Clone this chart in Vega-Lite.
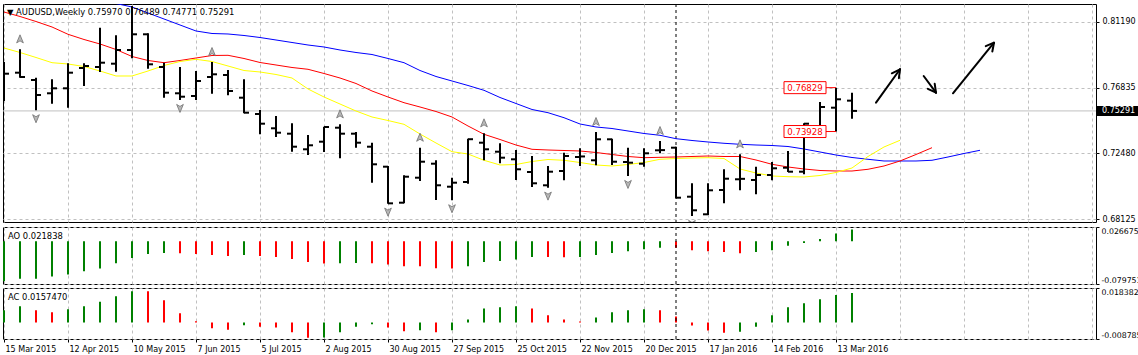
{
"$schema": "https://vega.github.io/schema/vega-lite/v6.json",
"background": "white",
"padding": {"left": 2, "top": 3, "right": 0, "bottom": 0},
"spacing": 2,
"config": {
  "view": {"stroke": "black", "strokeWidth": 1},
  "axis": {"gridColor": "#c0c0c0", "gridDash": [3, 3], "gridWidth": 1, "domain": false, "labelFont": "DejaVu Sans", "labelFontSize": 8, "labelColor": "black", "tickColor": "black", "tickSize": 3, "labelPadding": 3},
  "text": {"font": "DejaVu Sans", "fontSize": 8.4}
},
"datasets": {
  "ohlc": [
    {"i":0,"o":0.78195,"h":0.78525,"l":0.75947,"c":0.77752},
    {"i":1,"o":0.77818,"h":0.79365,"l":0.77487,"c":0.77534},
    {"i":2,"o":0.77335,"h":0.77487,"l":0.75332,"c":0.76343},
    {"i":3,"o":0.76456,"h":0.77381,"l":0.75768,"c":0.76786},
    {"i":4,"o":0.76786,"h":0.78439,"l":0.75504,"c":0.77818},
    {"i":5,"o":0.78129,"h":0.78439,"l":0.76939,"c":0.78261},
    {"i":6,"o":0.78195,"h":0.80793,"l":0.77864,"c":0.78479},
    {"i":7,"o":0.78413,"h":0.80291,"l":0.77884,"c":0.79319},
    {"i":8,"o":0.79319,"h":0.82228,"l":0.7877,"c":0.80357},
    {"i":9,"o":0.80357,"h":0.80423,"l":0.78082,"c":0.78373},
    {"i":10,"o":0.78195,"h":0.78479,"l":0.76165,"c":0.76495},
    {"i":11,"o":0.76456,"h":0.78195,"l":0.76013,"c":0.76231},
    {"i":12,"o":0.76277,"h":0.7793,"l":0.76013,"c":0.77269},
    {"i":13,"o":0.77534,"h":0.78525,"l":0.76429,"c":0.77712},
    {"i":14,"o":0.77666,"h":0.77996,"l":0.76324,"c":0.76608},
    {"i":15,"o":0.76165,"h":0.77381,"l":0.75133,"c":0.75173},
    {"i":16,"o":0.75087,"h":0.75352,"l":0.73745,"c":0.74446},
    {"i":17,"o":0.74142,"h":0.74955,"l":0.73566,"c":0.73851},
    {"i":18,"o":0.73785,"h":0.74472,"l":0.72594,"c":0.72925},
    {"i":19,"o":0.72753,"h":0.73699,"l":0.72376,"c":0.73018},
    {"i":20,"o":0.73256,"h":0.74247,"l":0.72575,"c":0.74228},
    {"i":21,"o":0.74181,"h":0.74406,"l":0.72158,"c":0.73785},
    {"i":22,"o":0.73785,"h":0.73897,"l":0.72859,"c":0.73189},
    {"i":23,"o":0.72925,"h":0.73189,"l":0.70545,"c":0.71761},
    {"i":24,"o":0.71603,"h":0.71649,"l":0.69156,"c":0.6918},
    {"i":25,"o":0.69222,"h":0.71034,"l":0.69183,"c":0.70941},
    {"i":26,"o":0.70875,"h":0.72859,"l":0.70657,"c":0.71933},
    {"i":27,"o":0.71801,"h":0.72026,"l":0.69401,"c":0.70373},
    {"i":28,"o":0.7028,"h":0.70875,"l":0.69381,"c":0.70545},
    {"i":29,"o":0.70591,"h":0.73454,"l":0.70479,"c":0.7342},
    {"i":30,"o":0.73189,"h":0.73811,"l":0.72026,"c":0.72753},
    {"i":31,"o":0.72594,"h":0.7315,"l":0.71827,"c":0.72198},
    {"i":32,"o":0.72092,"h":0.72707,"l":0.70723,"c":0.71431},
    {"i":33,"o":0.71252,"h":0.7231,"l":0.7026,"c":0.70505},
    {"i":34,"o":0.70373,"h":0.71649,"l":0.70214,"c":0.71272},
    {"i":35,"o":0.71318,"h":0.72528,"l":0.70703,"c":0.7231},
    {"i":36,"o":0.72244,"h":0.72819,"l":0.71649,"c":0.7228},
    {"i":37,"o":0.72026,"h":0.73897,"l":0.71695,"c":0.73414},
    {"i":38,"o":0.73414,"h":0.73454,"l":0.71715,"c":0.71933},
    {"i":39,"o":0.71913,"h":0.72859,"l":0.70988,"c":0.71867},
    {"i":40,"o":0.71801,"h":0.72819,"l":0.71603,"c":0.72489},
    {"i":41,"o":0.72687,"h":0.73302,"l":0.72489,"c":0.727},
    {"i":42,"o":0.72859,"h":0.72925,"l":0.69513,"c":0.69553},
    {"i":43,"o":0.69619,"h":0.70505,"l":0.68343,"c":0.6872},
    {"i":44,"o":0.68455,"h":0.70505,"l":0.68409,"c":0.70042},
    {"i":45,"o":0.70062,"h":0.71431,"l":0.69183,"c":0.70809},
    {"i":46,"o":0.7077,"h":0.72423,"l":0.70042,"c":0.708},
    {"i":47,"o":0.70723,"h":0.71603,"l":0.69778,"c":0.71054},
    {"i":48,"o":0.71054,"h":0.71913,"l":0.70703,"c":0.71497},
    {"i":49,"o":0.71536,"h":0.72641,"l":0.71252,"c":0.71272},
    {"i":50,"o":0.71272,"h":0.74472,"l":0.711,"c":0.74446},
    {"i":51,"o":0.74075,"h":0.75881,"l":0.74009,"c":0.7555},
    {"i":52,"o":0.75504,"h":0.76829,"l":0.73928,"c":0.76059},
    {"i":53,"o":0.7597,"h":0.76489,"l":0.74771,"c":0.75291}
  ],
  "jaw": [
    {"i":6,"v":0.82757},{"i":7,"v":0.82393},{"i":8,"v":0.82162},{"i":9,"v":0.81765},{"i":10,"v":0.81369},{"i":11,"v":0.80972},{"i":12,"v":0.80575},{"i":13,"v":0.8041},{"i":14,"v":0.80377},{"i":15,"v":0.80278},{"i":16,"v":0.80145},{"i":17,"v":0.7998},{"i":18,"v":0.79815},{"i":19,"v":0.79649},{"i":20,"v":0.79517},{"i":21,"v":0.79319},{"i":22,"v":0.79154},{"i":23,"v":0.79021},{"i":24,"v":0.78757},{"i":25,"v":0.78479},{"i":26,"v":0.77963},{"i":27,"v":0.77567},{"i":28,"v":0.77269},{"i":29,"v":0.76972},{"i":30,"v":0.76654},{"i":31,"v":0.76178},{"i":32,"v":0.75781},{"i":33,"v":0.75385},{"i":34,"v":0.75173},{"i":35,"v":0.74842},{"i":36,"v":0.74426},{"i":37,"v":0.74228},{"i":38,"v":0.74128},{"i":39,"v":0.73963},{"i":40,"v":0.73798},{"i":41,"v":0.73679},{"i":42,"v":0.73454},{"i":43,"v":0.73335},{"i":44,"v":0.73236},{"i":45,"v":0.7315},{"i":46,"v":0.73084},{"i":47,"v":0.73037},{"i":48,"v":0.73004},{"i":49,"v":0.72938},{"i":50,"v":0.72773},{"i":51,"v":0.72575},{"i":52,"v":0.72376},{"i":53,"v":0.72211},{"i":54,"v":0.72092},{"i":55,"v":0.7198},{"i":56,"v":0.7198},{"i":57,"v":0.7198},{"i":58,"v":0.72026},{"i":59,"v":0.72244},{"i":60,"v":0.72475},{"i":61,"v":0.72687}
  ],
  "teeth": [
    {"i":0,"v":0.81831},{"i":1,"v":0.81534},{"i":2,"v":0.81203},{"i":3,"v":0.8084},{"i":4,"v":0.80357},{"i":5,"v":0.80013},{"i":6,"v":0.79716},{"i":7,"v":0.79352},{"i":8,"v":0.78889},{"i":9,"v":0.78625},{"i":10,"v":0.78479},{"i":11,"v":0.78625},{"i":12,"v":0.7879},{"i":13,"v":0.78955},{"i":14,"v":0.78968},{"i":15,"v":0.78757},{"i":16,"v":0.78492},{"i":17,"v":0.78327},{"i":18,"v":0.78162},{"i":19,"v":0.78043},{"i":20,"v":0.77765},{"i":21,"v":0.77467},{"i":22,"v":0.77104},{"i":23,"v":0.76608},{"i":24,"v":0.76211},{"i":25,"v":0.75834},{"i":26,"v":0.7555},{"i":27,"v":0.75252},{"i":28,"v":0.74889},{"i":29,"v":0.74294},{"i":30,"v":0.73745},{"i":31,"v":0.73401},{"i":32,"v":0.73037},{"i":33,"v":0.72753},{"i":34,"v":0.72707},{"i":35,"v":0.72674},{"i":36,"v":0.72641},{"i":37,"v":0.72542},{"i":38,"v":0.72409},{"i":39,"v":0.72277},{"i":40,"v":0.72198},{"i":41,"v":0.72224},{"i":42,"v":0.72244},{"i":43,"v":0.72277},{"i":44,"v":0.7231},{"i":45,"v":0.72277},{"i":46,"v":0.72277},{"i":47,"v":0.72046},{"i":48,"v":0.71761},{"i":49,"v":0.71583},{"i":50,"v":0.71451},{"i":51,"v":0.71351},{"i":52,"v":0.71318},{"i":53,"v":0.71318},{"i":54,"v":0.71431},{"i":55,"v":0.71649},{"i":56,"v":0.7198},{"i":57,"v":0.72409},{"i":58,"v":0.72859}
  ],
  "lips": [
    {"i":0,"v":0.79451},{"i":1,"v":0.79154},{"i":2,"v":0.78823},{"i":3,"v":0.78479},{"i":4,"v":0.78393},{"i":5,"v":0.78228},{"i":6,"v":0.7793},{"i":7,"v":0.776},{"i":8,"v":0.776},{"i":9,"v":0.7793},{"i":10,"v":0.78294},{"i":11,"v":0.78558},{"i":12,"v":0.78704},{"i":13,"v":0.78558},{"i":14,"v":0.78261},{"i":15,"v":0.77963},{"i":16,"v":0.77864},{"i":17,"v":0.77699},{"i":18,"v":0.77467},{"i":19,"v":0.7674},{"i":20,"v":0.76211},{"i":21,"v":0.75748},{"i":22,"v":0.75285},{"i":23,"v":0.74889},{"i":24,"v":0.74657},{"i":25,"v":0.74406},{"i":26,"v":0.73765},{"i":27,"v":0.7317},{"i":28,"v":0.72594},{"i":29,"v":0.72442},{"i":30,"v":0.72026},{"i":31,"v":0.71715},{"i":32,"v":0.71748},{"i":33,"v":0.71946},{"i":34,"v":0.72079},{"i":35,"v":0.72026},{"i":36,"v":0.7188},{"i":37,"v":0.71715},{"i":38,"v":0.71649},{"i":39,"v":0.71748},{"i":40,"v":0.7188},{"i":41,"v":0.72092},{"i":42,"v":0.72145},{"i":43,"v":0.72178},{"i":44,"v":0.72198},{"i":45,"v":0.72145},{"i":46,"v":0.71451},{"i":47,"v":0.71186},{"i":48,"v":0.70988},{"i":49,"v":0.70941},{"i":50,"v":0.70922},{"i":51,"v":0.71021},{"i":52,"v":0.71219},{"i":53,"v":0.71517},{"i":54,"v":0.72277},{"i":55,"v":0.72905},{"i":56,"v":0.73348}
  ],
  "frac": [
    {"i":1,"t":"up","p":0.79365},{"i":2,"t":"dn","p":0.75332},{"i":8,"t":"up","p":0.82228},{"i":11,"t":"dn","p":0.76013},{"i":13,"t":"up","p":0.78525},{"i":21,"t":"up","p":0.74406},{"i":24,"t":"dn","p":0.69156},{"i":26,"t":"up","p":0.72859},{"i":28,"t":"dn","p":0.69381},{"i":30,"t":"up","p":0.73811},{"i":34,"t":"dn","p":0.70214},{"i":37,"t":"up","p":0.73897},{"i":39,"t":"dn","p":0.70988},{"i":41,"t":"up","p":0.73302},{"i":43,"t":"dn","p":0.68343},{"i":46,"t":"up","p":0.72423}
  ],
  "arrows": [
    {"x1":54.5,"y1":0.75834,"x2":56.0,"y2":0.78043},
    {"x1":56.0,"y1":0.78043,"x2":55.49,"y2":0.77778},
    {"x1":56.0,"y1":0.78043,"x2":55.93,"y2":0.77454},
    {"x1":57.48,"y1":0.776,"x2":58.25,"y2":0.76496},
    {"x1":58.25,"y1":0.76496,"x2":58.17,"y2":0.77084},
    {"x1":58.25,"y1":0.76496,"x2":57.74,"y2":0.76753},
    {"x1":59.31,"y1":0.76456,"x2":61.875,"y2":0.79802},
    {"x1":61.875,"y1":0.79802,"x2":61.36,"y2":0.7957},
    {"x1":61.875,"y1":0.79802,"x2":61.77,"y2":0.7922}
  ],
  "plabels": [{"i":52,"p":0.76829,"t":"0.76829"},{"i":52,"p":0.73928,"t":"0.73928"}],
  "ao": [
    {"i":0,"v":-0.0746,"d":"up"},{"i":1,"v":-0.0701,"d":"up"},{"i":2,"v":-0.07,"d":"up"},{"i":3,"v":-0.0656,"d":"up"},{"i":4,"v":-0.0618,"d":"up"},{"i":5,"v":-0.0561,"d":"up"},{"i":6,"v":-0.051,"d":"up"},{"i":7,"v":-0.0408,"d":"up"},{"i":8,"v":-0.0312,"d":"up"},{"i":9,"v":-0.0236,"d":"up"},{"i":10,"v":-0.0217,"d":"up"},{"i":11,"v":-0.0223,"d":"down"},{"i":12,"v":-0.0236,"d":"down"},{"i":13,"v":-0.0255,"d":"down"},{"i":14,"v":-0.0274,"d":"down"},{"i":15,"v":-0.0255,"d":"up"},{"i":16,"v":-0.0274,"d":"down"},{"i":17,"v":-0.0293,"d":"down"},{"i":18,"v":-0.0331,"d":"down"},{"i":19,"v":-0.0389,"d":"down"},{"i":20,"v":-0.0414,"d":"down"},{"i":21,"v":-0.0408,"d":"up"},{"i":22,"v":-0.0406,"d":"up"},{"i":23,"v":-0.041,"d":"down"},{"i":24,"v":-0.0433,"d":"down"},{"i":25,"v":-0.0465,"d":"down"},{"i":26,"v":-0.0467,"d":"down"},{"i":27,"v":-0.0504,"d":"down"},{"i":28,"v":-0.0506,"d":"down"},{"i":29,"v":-0.0465,"d":"up"},{"i":30,"v":-0.0389,"d":"up"},{"i":31,"v":-0.037,"d":"up"},{"i":32,"v":-0.0338,"d":"up"},{"i":33,"v":-0.0293,"d":"up"},{"i":34,"v":-0.0295,"d":"down"},{"i":35,"v":-0.0297,"d":"down"},{"i":36,"v":-0.0292,"d":"up"},{"i":37,"v":-0.0255,"d":"up"},{"i":38,"v":-0.0217,"d":"up"},{"i":39,"v":-0.0185,"d":"up"},{"i":40,"v":-0.0147,"d":"up"},{"i":41,"v":-0.0121,"d":"up"},{"i":42,"v":-0.0123,"d":"down"},{"i":43,"v":-0.0166,"d":"down"},{"i":44,"v":-0.0185,"d":"down"},{"i":45,"v":-0.0198,"d":"down"},{"i":46,"v":-0.0223,"d":"down"},{"i":47,"v":-0.0198,"d":"up"},{"i":48,"v":-0.0166,"d":"up"},{"i":49,"v":-0.0083,"d":"up"},{"i":50,"v":-0.0032,"d":"up"},{"i":51,"v":0.0045,"d":"up"},{"i":52,"v":0.0147,"d":"up"},{"i":53,"v":0.021838,"d":"up"}
  ],
  "ac": [
    {"i":0,"v":0.0065,"d":"up"},{"i":1,"v":0.0086,"d":"up"},{"i":2,"v":0.0065,"d":"down"},{"i":3,"v":0.0054,"d":"down"},{"i":4,"v":0.007,"d":"up"},{"i":5,"v":0.0086,"d":"up"},{"i":6,"v":0.011,"d":"up"},{"i":7,"v":0.014,"d":"up"},{"i":8,"v":0.0167,"d":"up"},{"i":9,"v":0.0166,"d":"down"},{"i":10,"v":0.0119,"d":"down"},{"i":11,"v":0.0049,"d":"down"},{"i":12,"v":0.0007,"d":"down"},{"i":13,"v":-0.0031,"d":"down"},{"i":14,"v":-0.0038,"d":"down"},{"i":15,"v":-0.0014,"d":"up"},{"i":16,"v":-0.0022,"d":"down"},{"i":17,"v":-0.0027,"d":"down"},{"i":18,"v":-0.0052,"d":"down"},{"i":19,"v":-0.0081,"d":"down"},{"i":20,"v":-0.008,"d":"up"},{"i":21,"v":-0.0052,"d":"up"},{"i":22,"v":-0.0022,"d":"up"},{"i":23,"v":-0.0009,"d":"up"},{"i":24,"v":-0.0027,"d":"down"},{"i":25,"v":-0.0047,"d":"down"},{"i":26,"v":-0.0041,"d":"up"},{"i":27,"v":-0.0052,"d":"down"},{"i":28,"v":-0.0041,"d":"up"},{"i":29,"v":0.0016,"d":"up"},{"i":30,"v":0.0075,"d":"up"},{"i":31,"v":0.0081,"d":"up"},{"i":32,"v":0.0086,"d":"up"},{"i":33,"v":0.0075,"d":"down"},{"i":34,"v":0.0038,"d":"down"},{"i":35,"v":0.0016,"d":"down"},{"i":36,"v":0.0005,"d":"down"},{"i":37,"v":0.0027,"d":"up"},{"i":38,"v":0.0054,"d":"up"},{"i":39,"v":0.0065,"d":"up"},{"i":40,"v":0.007,"d":"up"},{"i":41,"v":0.0065,"d":"down"},{"i":42,"v":0.0032,"d":"down"},{"i":43,"v":-0.0016,"d":"down"},{"i":44,"v":-0.0043,"d":"down"},{"i":45,"v":-0.0054,"d":"down"},{"i":46,"v":-0.0049,"d":"up"},{"i":47,"v":-0.0022,"d":"up"},{"i":48,"v":0.0038,"d":"up"},{"i":49,"v":0.0081,"d":"up"},{"i":50,"v":0.0102,"d":"up"},{"i":51,"v":0.0124,"d":"up"},{"i":52,"v":0.0146,"d":"up"},{"i":53,"v":0.015747,"d":"up"}
  ]
},
"vconcat": [
  {
    "width": 1093, "height": 218,
    "layer": [
      {
        "data": {"values": [{"p": 0.75291}]},
        "mark": {"type": "rule", "color": "#c0c0c0", "strokeWidth": 1},
        "encoding": {
          "y": {"field": "p", "type": "quantitative", "scale": {"domain": [0.67946, 0.8236], "nice": false, "zero": false},
                "axis": {"title": null, "orient": "right", "values": [0.68125, 0.7027, 0.7248, 0.74625, 0.76835, 0.79045, 0.8119], "format": ".5f", "grid": true, "ticks": true, "labelFlush": false}}
        }
      },
      {
        "data": {"values": [{"i": 42}]},
        "mark": {"type": "rule", "color": "black", "strokeDash": [3, 3], "strokeWidth": 1},
        "encoding": {
          "x": {"field": "i", "type": "quantitative", "scale": {"domain": [-0.0625, 68.25], "nice": false, "zero": false},
                "axis": {"title": null, "grid": true, "values": [0,2,4,6,8,10,12,14,16,18,20,22,24,26,28,30,32,34,36,38,40,42,44,46,48,50,52,54,56,58,60,62,64,66,68], "labels": false, "ticks": false}}
        }
      },
      {
        "data": {"name": "jaw"},
        "mark": {"type": "line", "color": "#0000ff", "strokeWidth": 1, "clip": true},
        "encoding": {
          "x": {"field": "i", "type": "quantitative", "scale": {"domain": [-0.0625, 68.25], "nice": false, "zero": false}},
          "y": {"field": "v", "type": "quantitative", "scale": {"domain": [0.67946, 0.8236], "nice": false, "zero": false}}
        }
      },
      {
        "data": {"name": "teeth"},
        "mark": {"type": "line", "color": "#ff0000", "strokeWidth": 1, "clip": true},
        "encoding": {
          "x": {"field": "i", "type": "quantitative", "scale": {"domain": [-0.0625, 68.25], "nice": false, "zero": false}},
          "y": {"field": "v", "type": "quantitative", "scale": {"domain": [0.67946, 0.8236], "nice": false, "zero": false}}
        }
      },
      {
        "data": {"name": "lips"},
        "mark": {"type": "line", "color": "#ffff00", "strokeWidth": 1, "clip": true},
        "encoding": {
          "x": {"field": "i", "type": "quantitative", "scale": {"domain": [-0.0625, 68.25], "nice": false, "zero": false}},
          "y": {"field": "v", "type": "quantitative", "scale": {"domain": [0.67946, 0.8236], "nice": false, "zero": false}}
        }
      },
      {
        "data": {"name": "ohlc"},
        "mark": {"type": "rule", "color": "black", "strokeWidth": 2, "clip": true},
        "encoding": {
          "x": {"field": "i", "type": "quantitative", "scale": {"domain": [-0.0625, 68.25], "nice": false, "zero": false}},
          "y": {"field": "h", "type": "quantitative", "scale": {"domain": [0.67946, 0.8236], "nice": false, "zero": false}},
          "y2": {"field": "l"}
        }
      },
      {
        "data": {"name": "ohlc"},
        "mark": {"type": "rule", "color": "black", "strokeWidth": 2, "xOffset": -5, "x2Offset": 0, "clip": true},
        "encoding": {
          "x": {"field": "i", "type": "quantitative", "scale": {"domain": [-0.0625, 68.25], "nice": false, "zero": false}},
          "x2": {"field": "i"},
          "y": {"field": "o", "type": "quantitative", "scale": {"domain": [0.67946, 0.8236], "nice": false, "zero": false}}
        }
      },
      {
        "data": {"name": "ohlc"},
        "mark": {"type": "rule", "color": "black", "strokeWidth": 2, "xOffset": 0, "x2Offset": 5, "clip": true},
        "encoding": {
          "x": {"field": "i", "type": "quantitative", "scale": {"domain": [-0.0625, 68.25], "nice": false, "zero": false}},
          "x2": {"field": "i"},
          "y": {"field": "c", "type": "quantitative", "scale": {"domain": [0.67946, 0.8236], "nice": false, "zero": false}}
        }
      },
      {
        "data": {"name": "frac"},
        "transform": [{"filter": "datum.t == 'up'"}],
        "mark": {"type": "point", "shape": "M0,-1L0.75,0.8L0,0.35L-0.75,0.8Z", "size": 80, "filled": true, "fill": "#b8b8b8", "stroke": "#707070", "strokeWidth": 0.8, "opacity": 1, "yOffset": -10, "clip": true},
        "encoding": {
          "x": {"field": "i", "type": "quantitative", "scale": {"domain": [-0.0625, 68.25], "nice": false, "zero": false}},
          "y": {"field": "p", "type": "quantitative", "scale": {"domain": [0.67946, 0.8236], "nice": false, "zero": false}}
        }
      },
      {
        "data": {"name": "frac"},
        "transform": [{"filter": "datum.t == 'dn'"}],
        "mark": {"type": "point", "shape": "M0,1L0.75,-0.8L0,-0.35L-0.75,-0.8Z", "size": 80, "filled": true, "fill": "#b8b8b8", "stroke": "#707070", "strokeWidth": 0.8, "opacity": 1, "yOffset": 8, "clip": true},
        "encoding": {
          "x": {"field": "i", "type": "quantitative", "scale": {"domain": [-0.0625, 68.25], "nice": false, "zero": false}},
          "y": {"field": "p", "type": "quantitative", "scale": {"domain": [0.67946, 0.8236], "nice": false, "zero": false}}
        }
      },
      {
        "data": {"name": "arrows"},
        "mark": {"type": "rule", "color": "black", "strokeWidth": 2, "strokeCap": "round"},
        "encoding": {
          "x": {"field": "x1", "type": "quantitative", "scale": {"domain": [-0.0625, 68.25], "nice": false, "zero": false}},
          "x2": {"field": "x2"},
          "y": {"field": "y1", "type": "quantitative", "scale": {"domain": [0.67946, 0.8236], "nice": false, "zero": false}},
          "y2": {"field": "y2"}
        }
      },
      {
        "data": {"name": "plabels"},
        "mark": {"type": "rule", "color": "#ff0000", "strokeWidth": 1, "xOffset": -10, "x2Offset": 0},
        "encoding": {
          "x": {"field": "i", "type": "quantitative", "scale": {"domain": [-0.0625, 68.25], "nice": false, "zero": false}},
          "x2": {"field": "i"},
          "y": {"field": "p", "type": "quantitative", "scale": {"domain": [0.67946, 0.8236], "nice": false, "zero": false}}
        }
      },
      {
        "data": {"name": "plabels"},
        "mark": {"type": "rect", "fill": "white", "stroke": "#ff0000", "strokeWidth": 1, "xOffset": -52, "x2Offset": -10, "yOffset": -6, "y2Offset": 6},
        "encoding": {
          "x": {"field": "i", "type": "quantitative", "scale": {"domain": [-0.0625, 68.25], "nice": false, "zero": false}},
          "x2": {"field": "i"},
          "y": {"field": "p", "type": "quantitative", "scale": {"domain": [0.67946, 0.8236], "nice": false, "zero": false}},
          "y2": {"field": "p"}
        }
      },
      {
        "data": {"name": "plabels"},
        "mark": {"type": "text", "color": "#ff0000", "align": "center", "baseline": "middle", "dx": -31, "fontSize": 8.6},
        "encoding": {
          "x": {"field": "i", "type": "quantitative", "scale": {"domain": [-0.0625, 68.25], "nice": false, "zero": false}},
          "y": {"field": "p", "type": "quantitative", "scale": {"domain": [0.67946, 0.8236], "nice": false, "zero": false}},
          "text": {"field": "t"}
        }
      },
      {
        "data": {"values": [{"p": 0.75291, "t": "0.75291"}]},
        "mark": {"type": "rect", "color": "black", "xOffset": 1, "x2Offset": 44, "yOffset": -5, "y2Offset": 5},
        "encoding": {
          "x": {"datum": 68.25, "type": "quantitative", "scale": {"domain": [-0.0625, 68.25], "nice": false, "zero": false}},
          "x2": {"datum": 68.25},
          "y": {"field": "p", "type": "quantitative", "scale": {"domain": [0.67946, 0.8236], "nice": false, "zero": false}},
          "y2": {"field": "p"}
        }
      },
      {
        "data": {"values": [{"p": 0.75291, "t": "0.75291"}]},
        "mark": {"type": "text", "color": "white", "align": "left", "baseline": "middle", "dx": 6, "fontSize": 8},
        "encoding": {
          "x": {"datum": 68.25, "type": "quantitative", "scale": {"domain": [-0.0625, 68.25], "nice": false, "zero": false}},
          "y": {"field": "p", "type": "quantitative", "scale": {"domain": [0.67946, 0.8236], "nice": false, "zero": false}},
          "text": {"field": "t"}
        }
      },
      {
        "data": {"values": [{"t": "▼  AUDUSD,Weekly  0.75970 0.76489 0.74771 0.75291"}]},
        "mark": {"type": "text", "color": "black", "align": "left", "baseline": "middle", "dx": 4, "dy": 8},
        "encoding": {
          "x": {"datum": -0.0625, "type": "quantitative", "scale": {"domain": [-0.0625, 68.25], "nice": false, "zero": false}},
          "y": {"datum": 0.8236, "type": "quantitative", "scale": {"domain": [0.67946, 0.8236], "nice": false, "zero": false}},
          "text": {"field": "t"}
        }
      }
    ]
  },
  {
    "width": 1093, "height": 57,
    "layer": [
      {
        "data": {"name": "ao"},
        "mark": {"type": "rule", "strokeWidth": 2},
        "encoding": {
          "x": {"field": "i", "type": "quantitative", "scale": {"domain": [-0.0625, 68.25], "nice": false, "zero": false},
                "axis": {"title": null, "grid": true, "values": [0,2,4,6,8,10,12,14,16,18,20,22,24,26,28,30,32,34,36,38,40,42,44,46,48,50,52,54,56,58,60,62,64,66,68], "labels": false, "ticks": false}},
          "y": {"field": "v", "type": "quantitative", "scale": {"domain": [-0.079751, 0.026675], "nice": false, "zero": false},
                "axis": {"title": null, "orient": "right", "values": [0.026675, 0, -0.079751], "labelExpr": "datum.value == 0 ? '0.00' : replace(format(datum.value, '.6f'), '\u2212', '-')", "grid": true, "ticks": true, "labelFlush": true, "labelPadding": 2, "labelFontSize": 7.8}},
          "y2": {"datum": 0},
          "color": {"field": "d", "type": "nominal", "scale": {"domain": ["up", "down"], "range": ["#008000", "#ff0000"]}, "legend": null}
        }
      },
      {
        "data": {"values": [{"i": 42}]},
        "mark": {"type": "rule", "color": "black", "strokeDash": [3, 3], "strokeWidth": 1},
        "encoding": {
          "x": {"field": "i", "type": "quantitative", "scale": {"domain": [-0.0625, 68.25], "nice": false, "zero": false}}
        }
      },
      {
        "data": {"values": [{"t": "AO 0.021838"}]},
        "mark": {"type": "text", "color": "black", "align": "left", "baseline": "middle", "dx": 5, "dy": 9},
        "encoding": {
          "x": {"datum": -0.0625, "type": "quantitative", "scale": {"domain": [-0.0625, 68.25], "nice": false, "zero": false}},
          "y": {"datum": 0.026675, "type": "quantitative", "scale": {"domain": [-0.079751, 0.026675], "nice": false, "zero": false}},
          "text": {"field": "t"}
        }
      }
    ]
  },
  {
    "width": 1093, "height": 51,
    "layer": [
      {
        "data": {"name": "ac"},
        "mark": {"type": "rule", "strokeWidth": 2},
        "encoding": {
          "x": {"field": "i", "type": "quantitative", "scale": {"domain": [-0.0625, 68.25], "nice": false, "zero": false},
                "axis": {"title": null, "grid": true, "values": [0,2,4,6,8,10,12,14,16,18,20,22,24,26,28,30,32,34,36,38,40,42,44,46,48,50,52,54,56,58,60,62,64,66,68],
                         "labels": true, "labelExpr": "datum.value % 4 == 0 && datum.value <= 52 ? timeFormat(datetime(2015, 2, 15 + 7 * datum.value), '%-d %b %Y') : ''",
                         "labelAlign": "left", "labelFlush": false, "labelOverlap": false, "labelBound": false, "labelPadding": 3, "labelOffset": 1, "labelFontSize": 8,
                         "ticks": true, "tickSize": 3, "tickOpacity": {"condition": {"test": "datum.value % 4 == 0 && datum.value <= 52", "value": 1}, "value": 0}}},
          "y": {"field": "v", "type": "quantitative", "scale": {"domain": [-0.0087853, 0.0183827], "nice": false, "zero": false},
                "axis": {"title": null, "orient": "right", "values": [0.0183827, 0, -0.0087853], "labelExpr": "datum.value == 0 ? '0.00' : replace(format(datum.value, '.7f'), '\u2212', '-')", "grid": true, "ticks": true, "labelFlush": true, "labelPadding": 2, "labelFontSize": 7.8}},
          "y2": {"datum": 0},
          "color": {"field": "d", "type": "nominal", "scale": {"domain": ["up", "down"], "range": ["#008000", "#ff0000"]}, "legend": null}
        }
      },
      {
        "data": {"values": [{"i": 42}]},
        "mark": {"type": "rule", "color": "black", "strokeDash": [3, 3], "strokeWidth": 1},
        "encoding": {
          "x": {"field": "i", "type": "quantitative", "scale": {"domain": [-0.0625, 68.25], "nice": false, "zero": false}}
        }
      },
      {
        "data": {"values": [{"t": "AC 0.0157470"}]},
        "mark": {"type": "text", "color": "black", "align": "left", "baseline": "middle", "dx": 5, "dy": 9},
        "encoding": {
          "x": {"datum": -0.0625, "type": "quantitative", "scale": {"domain": [-0.0625, 68.25], "nice": false, "zero": false}},
          "y": {"datum": 0.0183827, "type": "quantitative", "scale": {"domain": [-0.0087853, 0.0183827], "nice": false, "zero": false}},
          "text": {"field": "t"}
        }
      }
    ]
  }
]
}
